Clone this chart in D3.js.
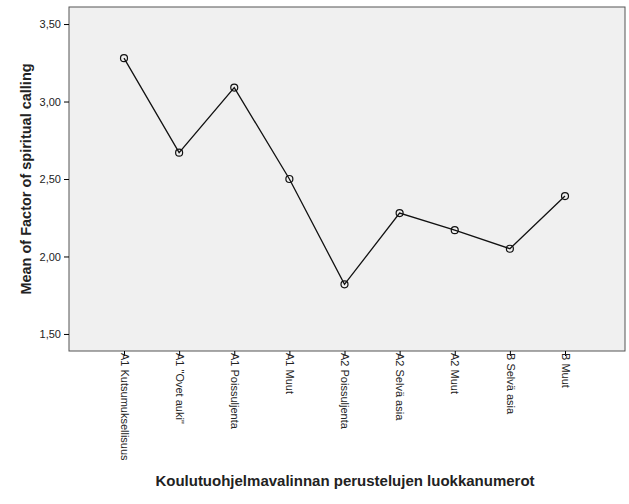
<!DOCTYPE html>
<html><head><meta charset="utf-8">
<script src="https://cdn.jsdelivr.net/npm/d3@7"></script>
<style>body{margin:0;background:#fff}text{font-family:Arial,"Liberation Sans",sans-serif}</style>
</head><body><svg id="c" width="629" height="504"></svg>
<script>
var categories = ["A1 Kutsumuksellisuus", "A1 \"Ovet auki\"", "A1 Poissuljenta", "A1 Muut",
    "A2 Poissuljenta", "A2 Selvä asia", "A2 Muut", "B Selvä asia", "B Muut"];
var means = [3.28, 2.67, 3.09, 2.50, 1.82, 2.28, 2.17, 2.05, 2.39];
var yTicks = [1.5, 2.0, 2.5, 3.0, 3.5];

var svg = d3.select("#c");
var m = {left: 69, top: 7, right: 625, bottom: 351};

var x = d3.scalePoint().domain(categories).range([124, 565]);
var y = d3.scaleLinear().domain([1.39, 3.61]).range([m.bottom, m.top]);

svg.append("rect").attr("x", m.left).attr("y", m.top)
    .attr("width", m.right - m.left).attr("height", m.bottom - m.top)
    .attr("fill", "#f0f0f0").attr("stroke", "#555").attr("stroke-width", 1);

var fmt = function(d) { return d3.format(".2f")(d).replace(".", ","); };
var ya = svg.append("g").attr("transform", "translate(" + m.left + ",0)")
    .call(d3.axisLeft(y).tickValues(yTicks).tickFormat(fmt).tickSize(5).tickSizeOuter(0));
ya.select(".domain").remove();
ya.selectAll("text").attr("font-size", 11).attr("fill", "#222");

var xa = svg.append("g").attr("transform", "translate(0," + m.bottom + ")")
    .call(d3.axisBottom(x).tickSize(5).tickSizeOuter(0));
xa.select(".domain").remove();
xa.selectAll("text").attr("font-size", 11).attr("fill", "#222")
    .attr("transform", "rotate(90)").attr("text-anchor", "start")
    .attr("x", 2).attr("y", 0).attr("dy", "0.35em");

var line = d3.line().x(function(d, i) { return x(categories[i]); }).y(function(d) { return y(d); });
svg.append("path").datum(means).attr("d", line).attr("fill", "none")
    .attr("stroke", "#111").attr("stroke-width", 1.3);
svg.selectAll("circle.p").data(means).enter().append("circle")
    .attr("cx", function(d, i) { return x(categories[i]); }).attr("cy", function(d) { return y(d); })
    .attr("r", 3.5).attr("fill", "none").attr("stroke", "#111").attr("stroke-width", 1.2);

svg.append("text").attr("x", 345).attr("y", 486).attr("text-anchor", "middle")
    .attr("font-size", 15).attr("font-weight", "bold").attr("fill", "#222")
    .text("Koulutuohjelmavalinnan perustelujen luokkanumerot");
svg.append("text").attr("transform", "translate(31,179) rotate(-90)").attr("text-anchor", "middle")
    .attr("font-size", 14.5).attr("font-weight", "bold").attr("fill", "#222")
    .text("Mean of Factor of spiritual calling");
</script></body></html>
